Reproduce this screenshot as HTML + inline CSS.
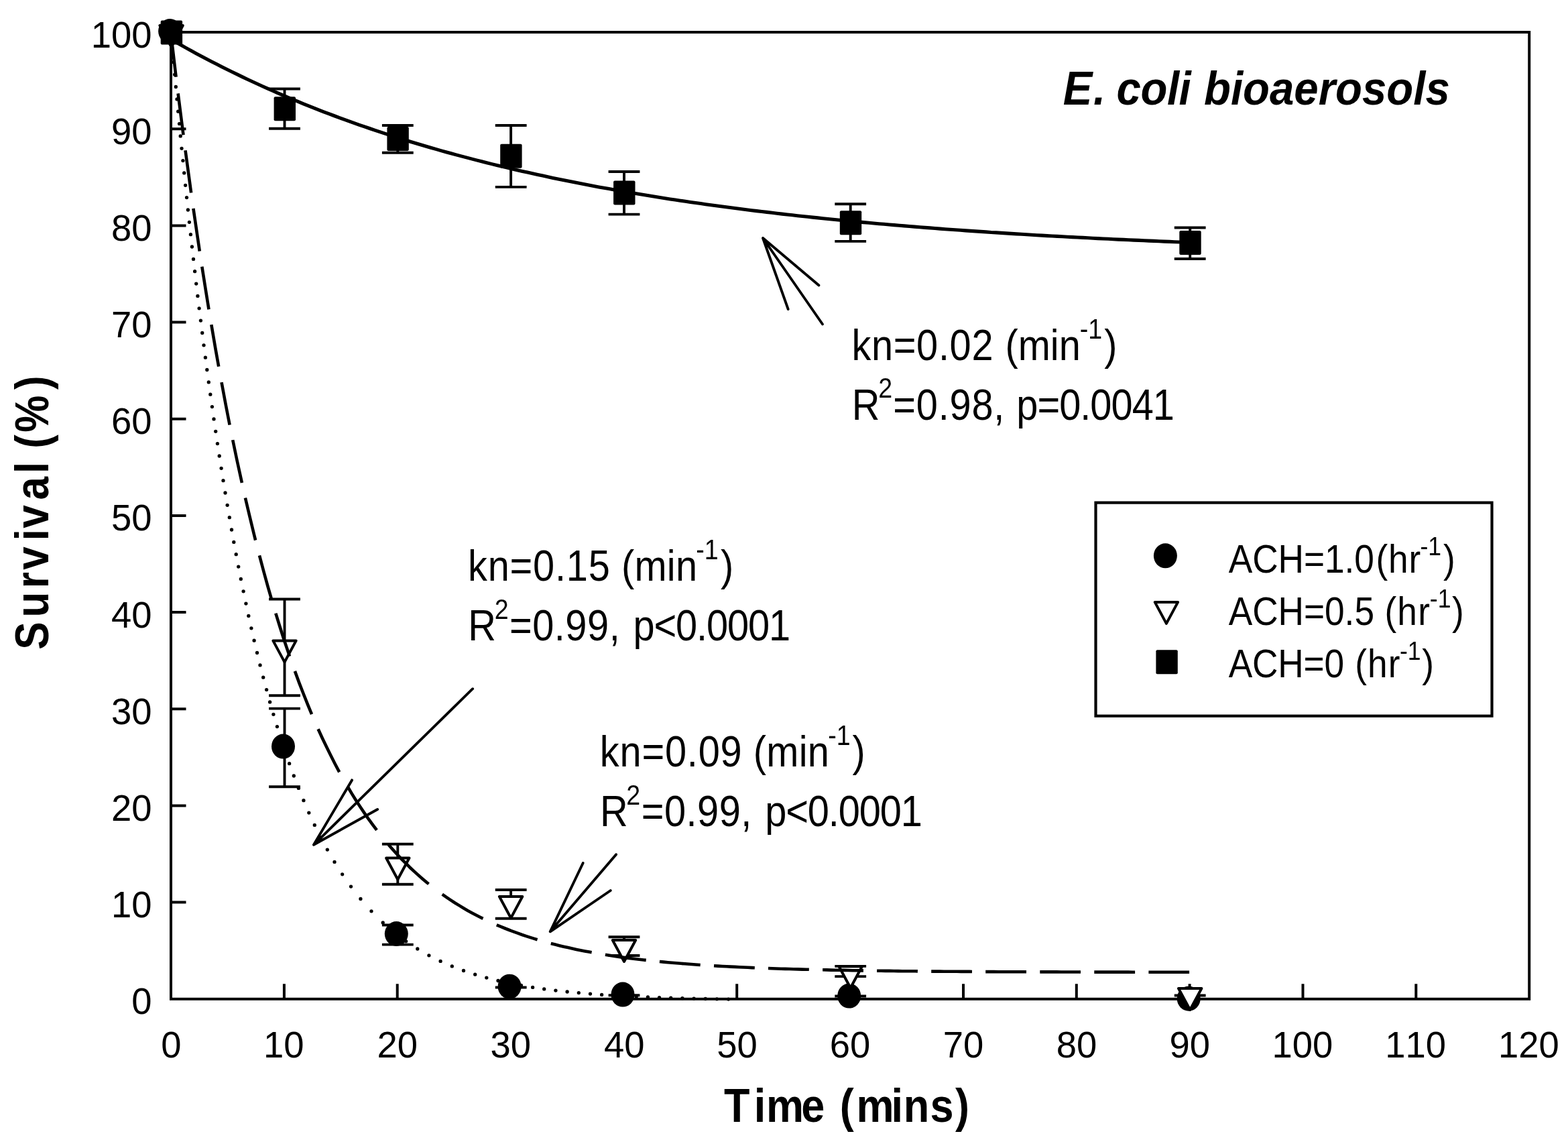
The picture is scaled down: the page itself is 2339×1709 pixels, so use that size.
<!DOCTYPE html>
<html lang="en"><head><meta charset="utf-8"><title>E. coli bioaerosols survival</title>
<style>html,body{margin:0;padding:0;background:#fff}body{width:2339px;height:1709px;overflow:hidden}svg{display:block}text{font-family:"Liberation Sans",sans-serif;fill:#000;font-kerning:none;white-space:pre}</style>
</head><body>
<svg width="2339" height="1709" viewBox="0 0 2339 1709">
<rect x="0" y="0" width="2339" height="1709" fill="#fff"/>
<g fill="none" stroke="#000">
<rect x="255.0" y="48.0" width="2026.2" height="1441.8" stroke-width="4"/>
<path d="M255.0,1345.6 h22.5 M255.0,1201.4 h22.5 M255.0,1057.3 h22.5 M255.0,913.1 h22.5 M255.0,768.9 h22.5 M255.0,624.7 h22.5 M255.0,480.5 h22.5 M255.0,336.4 h22.5 M255.0,192.2 h22.5 M423.9,1489.8 v-22.5 M592.7,1489.8 v-22.5 M761.5,1489.8 v-22.5 M930.4,1489.8 v-22.5 M1099.2,1489.8 v-22.5 M1268.1,1489.8 v-22.5 M1437.0,1489.8 v-22.5 M1605.8,1489.8 v-22.5 M1774.6,1489.8 v-22.5 M1943.5,1489.8 v-22.5 M2112.3,1489.8 v-22.5" stroke-width="4"/>
</g>
<path d="M424.5,1173.3 V1056.6 M401.1,1173.3 h46.8 M401.1,1056.6 h46.8 M593.3,1408.6 V1379.5 M569.9,1408.6 h46.8 M569.9,1379.5 h46.8 M762.1,1472.5 V1472.5 M738.8,1472.5 h46.8 M738.8,1472.5 h46.8 M931.0,1484.3 V1484.3 M907.6,1484.3 h46.8 M907.6,1484.3 h46.8 M1268.7,1485.5 V1485.5 M1245.3,1485.5 h46.8 M1245.3,1485.5 h46.8" stroke="#000" stroke-width="3.9" fill="none"/>
<ellipse cx="253.6" cy="46.5" rx="17.5" ry="18.5" fill="#000" stroke="none"/>
<ellipse cx="422.5" cy="1113.1" rx="17.5" ry="18.5" fill="#000" stroke="none"/>
<ellipse cx="591.3" cy="1392.5" rx="17.5" ry="18.5" fill="#000" stroke="none"/>
<ellipse cx="760.1" cy="1471.2" rx="17.5" ry="18.5" fill="#000" stroke="none"/>
<ellipse cx="929.0" cy="1483.1" rx="17.5" ry="18.5" fill="#000" stroke="none"/>
<ellipse cx="1266.7" cy="1485.1" rx="17.5" ry="18.5" fill="#000" stroke="none"/>
<ellipse cx="1773.2" cy="1489.2" rx="17.5" ry="18.5" fill="#000" stroke="none"/>
<path d="M424.5,1037.3 V893.5 M401.1,1037.3 h46.8 M401.1,893.5 h46.8 M593.3,1318.8 V1258.8 M569.9,1318.8 h46.8 M569.9,1258.8 h46.8 M762.1,1369.8 V1327.0 M738.8,1369.8 h46.8 M738.8,1327.0 h46.8 M931.0,1425.0 V1397.2 M907.6,1425.0 h46.8 M907.6,1397.2 h46.8 M1268.7,1456.1 V1440.9 M1245.3,1456.1 h46.8 M1245.3,1440.9 h46.8 M1775.2,1484.5 V1484.5 M1751.8,1484.5 h46.8 M1751.8,1484.5 h46.8" stroke="#000" stroke-width="3.9" fill="none"/>
<path d="M238.4,38.0 h34.4 l-17.2,32.0 z" fill="#fff" stroke="#000" stroke-width="4.0" stroke-linejoin="round"/>
<path d="M407.3,955.4 h34.4 l-17.2,32.0 z" fill="#fff" stroke="#000" stroke-width="4.0" stroke-linejoin="round"/>
<path d="M576.1,1279.5 h34.4 l-17.2,32.0 z" fill="#fff" stroke="#000" stroke-width="4.0" stroke-linejoin="round"/>
<path d="M744.9,1337.0 h34.4 l-17.2,32.0 z" fill="#fff" stroke="#000" stroke-width="4.0" stroke-linejoin="round"/>
<path d="M913.8,1402.0 h34.4 l-17.2,32.0 z" fill="#fff" stroke="#000" stroke-width="4.0" stroke-linejoin="round"/>
<path d="M1251.5,1441.2 h34.4 l-17.2,32.0 z" fill="#fff" stroke="#000" stroke-width="4.0" stroke-linejoin="round"/>
<path d="M1758.0,1474.0 h34.4 l-17.2,32.0 z" fill="#fff" stroke="#000" stroke-width="4.0" stroke-linejoin="round"/>
<path d="M424.5,191.7 V132.5 M401.1,191.7 h46.8 M401.1,132.5 h46.8 M593.3,227.7 V187.0 M569.9,227.7 h46.8 M569.9,187.0 h46.8 M762.1,278.9 V187.0 M738.8,278.9 h46.8 M738.8,187.0 h46.8 M931.0,319.6 V256.0 M907.6,319.6 h46.8 M907.6,256.0 h46.8 M1268.7,359.9 V304.3 M1245.3,359.9 h46.8 M1245.3,304.3 h46.8 M1775.2,386.0 V339.5 M1751.8,386.0 h46.8 M1751.8,339.5 h46.8" stroke="#000" stroke-width="3.9" fill="none"/>
<rect x="239.7" y="30.4" width="32.4" height="36" rx="2" fill="#000" stroke="none"/>
<rect x="408.6" y="144.3" width="32.4" height="36" rx="2" fill="#000" stroke="none"/>
<rect x="577.4" y="189.0" width="32.4" height="36" rx="2" fill="#000" stroke="none"/>
<rect x="746.2" y="214.8" width="32.4" height="36" rx="2" fill="#000" stroke="none"/>
<rect x="915.1" y="269.6" width="32.4" height="36" rx="2" fill="#000" stroke="none"/>
<rect x="1252.8" y="314.3" width="32.4" height="36" rx="2" fill="#000" stroke="none"/>
<rect x="1759.3" y="344.0" width="32.4" height="36" rx="2" fill="#000" stroke="none"/>
<g fill="none" stroke="#000" stroke-linejoin="round">
<path d="M255.0,58.7 L262.6,63.0 L270.2,67.3 L277.8,71.6 L285.4,75.8 L293.0,79.9 L300.6,83.9 L308.2,88.0 L315.8,91.9 L323.4,95.8 L331.0,99.7 L338.6,103.5 L346.2,107.2 L353.8,110.9 L361.4,114.6 L369.0,118.2 L376.6,121.7 L384.2,125.2 L391.8,128.7 L399.4,132.1 L407.0,135.5 L414.6,138.8 L422.2,142.1 L429.8,145.3 L437.4,148.5 L445.0,151.7 L452.6,154.8 L460.2,157.8 L467.8,160.8 L475.3,163.8 L482.9,166.8 L490.5,169.7 L498.1,172.5 L505.7,175.4 L513.3,178.1 L520.9,180.9 L528.5,183.6 L536.1,186.3 L543.7,188.9 L551.3,191.5 L558.9,194.1 L566.5,196.6 L574.1,199.1 L581.7,201.6 L589.3,204.1 L596.9,206.5 L604.5,208.8 L612.1,211.2 L619.7,213.5 L627.3,215.8 L634.9,218.0 L642.5,220.2 L650.1,222.4 L657.7,224.6 L665.3,226.7 L672.9,228.8 L680.5,230.9 L688.1,232.9 L695.7,234.9 L703.3,236.9 L710.9,238.9 L718.5,240.8 L726.1,242.7 L733.7,244.6 L741.3,246.5 L748.9,248.3 L756.5,250.1 L764.1,251.9 L771.7,253.7 L779.3,255.4 L786.9,257.1 L794.5,258.8 L802.1,260.5 L809.7,262.1 L817.3,263.8 L824.9,265.4 L832.5,266.9 L840.1,268.5 L847.7,270.0 L855.3,271.6 L862.9,273.1 L870.5,274.5 L878.1,276.0 L885.7,277.4 L893.3,278.9 L900.9,280.3 L908.4,281.6 L916.0,283.0 L923.6,284.4 L931.2,285.7 L938.8,287.0 L946.4,288.3 L954.0,289.6 L961.6,290.8 L969.2,292.1 L976.8,293.3 L984.4,294.5 L992.0,295.7 L999.6,296.9 L1007.2,298.0 L1014.8,299.2 L1022.4,300.3 L1030.0,301.4 L1037.6,302.5 L1045.2,303.6 L1052.8,304.7 L1060.4,305.7 L1068.0,306.8 L1075.6,307.8 L1083.2,308.8 L1090.8,309.8 L1098.4,310.8 L1106.0,311.8 L1113.6,312.7 L1121.2,313.7 L1128.8,314.6 L1136.4,315.5 L1144.0,316.4 L1151.6,317.3 L1159.2,318.2 L1166.8,319.1 L1174.4,320.0 L1182.0,320.8 L1189.6,321.7 L1197.2,322.5 L1204.8,323.3 L1212.4,324.1 L1220.0,324.9 L1227.6,325.7 L1235.2,326.5 L1242.8,327.2 L1250.4,328.0 L1258.0,328.7 L1265.6,329.5 L1273.2,330.2 L1280.8,330.9 L1288.4,331.6 L1296.0,332.3 L1303.6,333.0 L1311.2,333.7 L1318.8,334.3 L1326.4,335.0 L1334.0,335.6 L1341.5,336.3 L1349.1,336.9 L1356.7,337.5 L1364.3,338.1 L1371.9,338.8 L1379.5,339.4 L1387.1,339.9 L1394.7,340.5 L1402.3,341.1 L1409.9,341.7 L1417.5,342.2 L1425.1,342.8 L1432.7,343.3 L1440.3,343.9 L1447.9,344.4 L1455.5,344.9 L1463.1,345.4 L1470.7,345.9 L1478.3,346.5 L1485.9,346.9 L1493.5,347.4 L1501.1,347.9 L1508.7,348.4 L1516.3,348.9 L1523.9,349.3 L1531.5,349.8 L1539.1,350.2 L1546.7,350.7 L1554.3,351.1 L1561.9,351.6 L1569.5,352.0 L1577.1,352.4 L1584.7,352.8 L1592.3,353.2 L1599.9,353.6 L1607.5,354.0 L1615.1,354.4 L1622.7,354.8 L1630.3,355.2 L1637.9,355.6 L1645.5,356.0 L1653.1,356.3 L1660.7,356.7 L1668.3,357.1 L1675.9,357.4 L1683.5,357.8 L1691.1,358.1 L1698.7,358.4 L1706.3,358.8 L1713.9,359.1 L1721.5,359.4 L1729.1,359.8 L1736.7,360.1 L1744.3,360.4 L1751.9,360.7 L1759.5,361.0 L1767.1,361.3 L1774.6,361.6" stroke-width="5.1"/>
<path d="M255.3,53.1 L261.6,106.4 L262.6,114.7 M265.6,139.4 L272.0,189.5 L273.5,201.2 M276.5,224.3 L282.9,271.1 L285.1,287.5 M288.4,310.8 L294.8,354.3 L297.8,374.6 M301.3,397.7 L307.7,437.9 L311.5,461.3 M315.3,484.1 L321.6,521.0 L326.2,546.6 M330.5,570.2 L336.8,603.8 L342.6,633.6 M347.2,656.1 L353.5,686.4 L359.9,715.6 L360.9,720.1 M365.9,742.5 L372.3,769.5 L378.6,795.5 L381.1,805.6 M387.0,828.3 L393.3,852.0 L399.6,874.8 L404.7,892.4 M411.3,914.6 L417.6,935.0 L423.9,954.7 L430.3,973.6 L432.0,978.7 M439.9,1000.9 L446.2,1018.1 L452.6,1034.5 L458.9,1050.4 L465.0,1065.1 M474.6,1087.2 L480.9,1101.0 L487.3,1114.3 L493.6,1127.1 L499.9,1139.5 L506.2,1151.3 M518.7,1173.2 L525.0,1183.8 L531.3,1194.0 L537.7,1203.7 L544.0,1213.1 L550.3,1222.2 L556.7,1230.9 L562.0,1237.9 M579.4,1259.5 L585.8,1266.8 L592.1,1273.7 L598.4,1280.5 L604.8,1286.9 L611.1,1293.2 L617.4,1299.1 L623.8,1304.9 L630.1,1310.4 L636.4,1315.8 L639.5,1318.2 M659.7,1333.7 L666.1,1338.1 L672.4,1342.4 L678.7,1346.5 L685.1,1350.4 L691.4,1354.2 L697.7,1357.9 L704.1,1361.4 L710.4,1364.7 L716.7,1368.0 L720.5,1369.9 M740.8,1379.3 L747.1,1381.9 L753.4,1384.5 L759.8,1387.0 L766.1,1389.4 L772.4,1391.7 L778.8,1394.0 L785.1,1396.1 L791.4,1398.1 L797.8,1400.1 L801.6,1401.3 M821.8,1407.0 L828.2,1408.6 L834.5,1410.2 L840.8,1411.7 L847.2,1413.1 L853.5,1414.5 L859.8,1415.9 L866.2,1417.2 L872.5,1418.4 L878.8,1419.6 L882.6,1420.3 M902.9,1423.8 L909.2,1424.8 L915.5,1425.7 L921.9,1426.7 L928.2,1427.6 L934.5,1428.4 L940.9,1429.2 L947.2,1430.0 L953.5,1430.8 L959.9,1431.5 L963.7,1431.9 M983.9,1434.0 L990.3,1434.6 L996.6,1435.2 L1002.9,1435.8 L1009.3,1436.3 L1015.6,1436.8 L1021.9,1437.3 L1028.2,1437.8 L1034.6,1438.3 L1040.9,1438.7 L1044.7,1439.0 M1065.0,1440.2 L1071.3,1440.6 L1077.6,1441.0 L1084.0,1441.3 L1090.3,1441.6 L1096.6,1441.9 L1103.0,1442.2 L1109.3,1442.5 L1115.6,1442.8 L1122.0,1443.1 L1125.8,1443.2 M1146.0,1444.0 L1152.4,1444.2 L1158.7,1444.5 L1165.0,1444.7 L1171.3,1444.9 L1177.7,1445.0 L1184.0,1445.2 L1190.3,1445.4 L1196.7,1445.6 L1203.0,1445.7 L1206.8,1445.8 M1227.1,1446.3 L1233.4,1446.4 L1239.7,1446.6 L1246.1,1446.7 L1252.4,1446.8 L1258.7,1446.9 L1265.1,1447.0 L1271.4,1447.2 L1277.7,1447.3 L1284.1,1447.4 L1287.9,1447.4 M1308.1,1447.7 L1314.4,1447.8 L1320.8,1447.9 L1327.1,1447.9 L1333.4,1448.0 L1339.8,1448.1 L1346.1,1448.2 L1352.4,1448.2 L1358.8,1448.3 L1365.1,1448.3 L1368.9,1448.4 M1389.2,1448.6 L1395.5,1448.6 L1401.8,1448.6 L1408.2,1448.7 L1414.5,1448.7 L1420.8,1448.8 L1427.2,1448.8 L1433.5,1448.9 L1439.8,1448.9 L1446.2,1448.9 L1450.0,1449.0 M1470.2,1449.1 L1476.5,1449.1 L1482.9,1449.1 L1489.2,1449.2 L1495.5,1449.2 L1501.9,1449.2 L1508.2,1449.2 L1514.5,1449.3 L1520.9,1449.3 L1527.2,1449.3 L1531.0,1449.3 M1551.3,1449.4 L1557.6,1449.4 L1563.9,1449.4 L1570.3,1449.4 L1576.6,1449.4 L1582.9,1449.5 L1589.3,1449.5 L1595.6,1449.5 L1601.9,1449.5 L1608.2,1449.5 L1612.0,1449.5 M1632.3,1449.6 L1638.6,1449.6 L1645.0,1449.6 L1651.3,1449.6 L1657.6,1449.6 L1664.0,1449.6 L1670.3,1449.6 L1676.6,1449.6 L1683.0,1449.6 L1689.3,1449.7 L1693.1,1449.7 M1713.4,1449.7 L1719.7,1449.7 L1726.0,1449.7 L1732.4,1449.7 L1738.7,1449.7 L1745.0,1449.7 L1751.3,1449.7 L1757.7,1449.7 L1764.0,1449.7 L1770.3,1449.7 L1774.1,1449.7" stroke-width="4.6"/>
<path d="M255.7,56.1 h0.01 M257.3,74.5 h0.01 M259.0,92.8 h0.01 M260.6,111.2 h0.01 M262.3,129.5 h0.01 M264.0,147.9 h0.01 M265.7,166.2 h0.01 M267.5,184.6 h0.01 M269.2,202.9 h0.01 M271.0,221.3 h0.01 M272.9,239.6 h0.01 M274.7,257.9 h0.01 M276.6,276.3 h0.01 M278.5,294.6 h0.01 M280.4,313.0 h0.01 M282.4,331.3 h0.01 M284.4,349.7 h0.01 M286.4,368.0 h0.01 M288.5,386.4 h0.01 M290.6,404.7 h0.01 M292.7,423.1 h0.01 M294.9,441.4 h0.01 M297.1,459.8 h0.01 M299.4,478.1 h0.01 M301.7,496.5 h0.01 M304.0,514.8 h0.01 M306.4,533.2 h0.01 M308.8,551.5 h0.01 M311.3,569.9 h0.01 M313.8,588.2 h0.01 M316.4,606.6 h0.01 M319.0,624.9 h0.01 M321.7,643.3 h0.01 M324.4,661.6 h0.01 M327.2,680.0 h0.01 M330.1,698.3 h0.01 M333.0,716.7 h0.01 M336.0,735.0 h0.01 M339.1,753.3 h0.01 M342.3,771.7 h0.01 M345.5,790.0 h0.01 M348.8,808.4 h0.01 M352.2,826.7 h0.01 M355.7,845.1 h0.01 M359.3,863.4 h0.01 M363.1,881.8 h0.01 M366.9,900.1 h0.01 M370.8,918.5 h0.01 M374.9,936.8 h0.01 M379.1,955.2 h0.01 M383.5,973.5 h0.01 M388.0,991.9 h0.01 M392.7,1010.2 h0.01 M397.6,1028.6 h0.01 M402.6,1046.9 h0.01 M407.9,1065.3 h0.01 M413.4,1083.6 h0.01 M419.2,1102.0 h0.01 M425.3,1120.3 h0.01 M431.6,1138.7 h0.01 M438.3,1157.0 h0.01 M445.4,1175.4 h0.01 M452.9,1193.7 h0.01 M460.8,1212.1 h0.01 M469.3,1230.4 h0.01 M478.4,1248.8 h0.01 M488.3,1267.1 h0.01 M499.0,1285.4 h0.01 M510.6,1303.8 h0.01 M523.5,1322.1 h0.01 M537.9,1340.5 h0.01 M554.0,1358.8 h0.01 M571.2,1375.9 h0.01 M588.4,1390.7 h0.01 M605.6,1403.7 h0.01 M622.8,1415.0 h0.01 M639.9,1424.8 h0.01 M657.1,1433.4 h0.01 M674.3,1440.9 h0.01 M691.5,1447.5 h0.01 M708.7,1453.2 h0.01 M725.8,1458.1 h0.01 M743.0,1462.5 h0.01 M760.2,1466.2 h0.01 M777.4,1469.5 h0.01 M794.6,1472.4 h0.01 M811.7,1474.9 h0.01 M828.9,1477.1 h0.01 M846.1,1479.0 h0.01 M863.3,1480.6 h0.01 M880.5,1482.1 h0.01 M897.6,1483.4 h0.01 M914.8,1484.5 h0.01 M932.0,1485.4 h0.01 M949.2,1486.3 h0.01 M966.4,1487.0 h0.01 M983.5,1487.6 h0.01 M1000.7,1488.2 h0.01 M1017.9,1488.7 h0.01 M1035.1,1489.1 h0.01 M1052.3,1489.5 h0.01 M1069.4,1489.8 h0.01 M1086.6,1490.1 h0.01" stroke-width="5.3" stroke-linecap="round"/>
</g>
<g stroke="#000" stroke-width="3.9" stroke-linecap="round" stroke-linejoin="round" fill="none">
<path d="M1227,483.5 L1138,355 M1221.5,425.5 L1138,355 L1175.7,461.1"/>
<path d="M705.1,1027.2 L468,1259.8 M525,1163.4 L468,1259.8 L563.1,1207"/>
<path d="M919.1,1274.2 L820.7,1389.3 M869.7,1287 L820.7,1389.3 L910.8,1328"/>
</g>
<text transform="translate(196.17,1512.30) scale(0.9750,1)" font-size="55.8">0</text>
<text transform="translate(165.91,1368.12) scale(0.9750,1)" font-size="55.8">10</text>
<text transform="translate(165.91,1223.94) scale(0.9750,1)" font-size="55.8">20</text>
<text transform="translate(165.91,1079.76) scale(0.9750,1)" font-size="55.8">30</text>
<text transform="translate(165.91,935.58) scale(0.9750,1)" font-size="55.8">40</text>
<text transform="translate(165.91,791.40) scale(0.9750,1)" font-size="55.8">50</text>
<text transform="translate(165.91,647.22) scale(0.9750,1)" font-size="55.8">60</text>
<text transform="translate(165.91,503.04) scale(0.9750,1)" font-size="55.8">70</text>
<text transform="translate(165.91,358.86) scale(0.9750,1)" font-size="55.8">80</text>
<text transform="translate(165.91,214.68) scale(0.9750,1)" font-size="55.8">90</text>
<text transform="translate(135.66,70.50) scale(0.9750,1)" font-size="55.8">100</text>
<text transform="translate(240.17,1577.30) scale(0.9750,1)" font-size="55.8">0</text>
<text transform="translate(392.88,1577.30) scale(0.9750,1)" font-size="55.8">10</text>
<text transform="translate(562.44,1577.30) scale(0.9750,1)" font-size="55.8">20</text>
<text transform="translate(731.62,1577.30) scale(0.9750,1)" font-size="55.8">30</text>
<text transform="translate(900.88,1577.30) scale(0.9750,1)" font-size="55.8">40</text>
<text transform="translate(1069.27,1577.30) scale(0.9750,1)" font-size="55.8">50</text>
<text transform="translate(1237.82,1577.30) scale(0.9750,1)" font-size="55.8">60</text>
<text transform="translate(1406.66,1577.30) scale(0.9750,1)" font-size="55.8">70</text>
<text transform="translate(1575.72,1577.30) scale(0.9750,1)" font-size="55.8">80</text>
<text transform="translate(1744.48,1577.30) scale(0.9750,1)" font-size="55.8">90</text>
<text transform="translate(1897.41,1577.30) scale(0.9750,1)" font-size="55.8">100</text>
<text transform="translate(2066.26,1577.30) scale(0.9750,1)" font-size="55.8">110</text>
<text transform="translate(2235.11,1577.30) scale(0.9750,1)" font-size="55.8">120</text>
<text transform="scale(0.8878,1)" x="1216.57 1266.79 1287.44 1346.36 1385.85 1411.01 1438.88 1497.47 1518.14 1562.84 1605.18" y="1673.00" font-size="71.0" font-weight="bold">Time (mins)</text>
<text transform="translate(72,1000) rotate(-90) scale(0.8877,1)" x="35.14 89.55 138.42 169.35 218.37 239.19 286.65 331.18 350.63 373.24 400.09 472.13" y="0.00" font-size="70.0" font-weight="bold">Survival (%)</text>
<text transform="scale(0.9203,1)" font-weight="bold" font-style="italic"><tspan x="1723.07" y="155.90" font-size="71.0" letter-spacing="1.73">E. </tspan><tspan x="1809.82" y="155.90" font-size="71.0" letter-spacing="-0.50">coli </tspan><tspan x="1951.61" y="155.90" font-size="71.0" letter-spacing="0.00">bioaerosols</tspan></text>
<text transform="scale(0.8950,1)"><tspan x="1419.48" y="537.35" font-size="64.5" letter-spacing="0.76">kn=0.02 </tspan><tspan x="1675.31" y="537.35" font-size="64.5" letter-spacing="0.06">(min</tspan><tspan x="1799.75" y="505.00" font-size="42.0">-1</tspan><tspan x="1840.64" y="537.35" font-size="64.5">)</tspan></text>
<text transform="scale(0.8950,1)"><tspan x="1419.89" y="625.90" font-size="64.5">R</tspan><tspan x="1463.84" y="593.30" font-size="42.0">2</tspan><tspan x="1488.62" y="625.90" font-size="64.5" letter-spacing="0.90">=0.98, </tspan><tspan x="1694.17" y="625.90" font-size="64.5" letter-spacing="-1.07">p=0.0041</tspan></text>
<text transform="scale(0.8950,1)"><tspan x="779.89" y="865.89" font-size="64.5" letter-spacing="0.90">kn=0.15 </tspan><tspan x="1035.72" y="865.89" font-size="64.5" letter-spacing="0.34">(min</tspan><tspan x="1160.16" y="833.78" font-size="42.0">-1</tspan><tspan x="1201.05" y="865.89" font-size="64.5">)</tspan></text>
<text transform="scale(0.8950,1)"><tspan x="780.31" y="954.92" font-size="64.5">R</tspan><tspan x="824.25" y="922.57" font-size="42.0">2</tspan><tspan x="849.03" y="954.92" font-size="64.5" letter-spacing="0.62">=0.99, </tspan><tspan x="1055.40" y="954.92" font-size="64.5" letter-spacing="-1.26">p&lt;0.0001</tspan></text>
<text transform="scale(0.8950,1)"><tspan x="999.79" y="1142.84" font-size="64.5" letter-spacing="0.91">kn=0.09 </tspan><tspan x="1255.62" y="1142.84" font-size="64.5" letter-spacing="0.34">(min</tspan><tspan x="1380.06" y="1111.22" font-size="42.0">-1</tspan><tspan x="1420.68" y="1142.84" font-size="64.5">)</tspan></text>
<text transform="scale(0.8950,1)"><tspan x="999.93" y="1231.63" font-size="64.5">R</tspan><tspan x="1043.88" y="1199.52" font-size="42.0">2</tspan><tspan x="1068.94" y="1231.63" font-size="64.5" letter-spacing="0.57">=0.99, </tspan><tspan x="1275.03" y="1231.63" font-size="64.5" letter-spacing="-1.22">p&lt;0.0001</tspan></text>
<rect x="1634.5" y="749.6" width="591.0" height="318.1" fill="#fff" stroke="#000" stroke-width="4.2"/>
<ellipse cx="1738.4" cy="828.8" rx="17.5" ry="18.5" fill="#000" stroke="none"/>
<path d="M1722.7,897.9 h34.4 l-17.2,32.0 z" fill="#fff" stroke="#000" stroke-width="4.0" stroke-linejoin="round"/>
<rect x="1724.4" y="969.3" width="32.4" height="36" rx="2" fill="#000" stroke="none"/>
<text transform="scale(0.9100,1)"><tspan x="2014.00" y="853.65" font-size="58.5" letter-spacing="-0.06">ACH=1.0</tspan><tspan x="2255.46" y="853.65" font-size="58.5" letter-spacing="1.00">(hr</tspan><tspan x="2328.01" y="827.77" font-size="39.0">-1</tspan><tspan x="2365.93" y="853.65" font-size="58.5">)</tspan></text>
<text transform="scale(0.9100,1)"><tspan x="2014.00" y="931.67" font-size="58.5" letter-spacing="-0.03">ACH=0.5 </tspan><tspan x="2269.68" y="931.67" font-size="58.5" letter-spacing="1.33">(hr</tspan><tspan x="2343.76" y="905.80" font-size="39.0">-1</tspan><tspan x="2380.14" y="931.67" font-size="58.5">)</tspan></text>
<text transform="scale(0.9100,1)"><tspan x="2014.00" y="1009.90" font-size="58.5" letter-spacing="-0.20">ACH=0 </tspan><tspan x="2221.12" y="1009.90" font-size="58.5" letter-spacing="1.22">(hr</tspan><tspan x="2294.54" y="984.02" font-size="39.0">-1</tspan><tspan x="2330.93" y="1009.90" font-size="58.5">)</tspan></text>
</svg>
</body></html>
